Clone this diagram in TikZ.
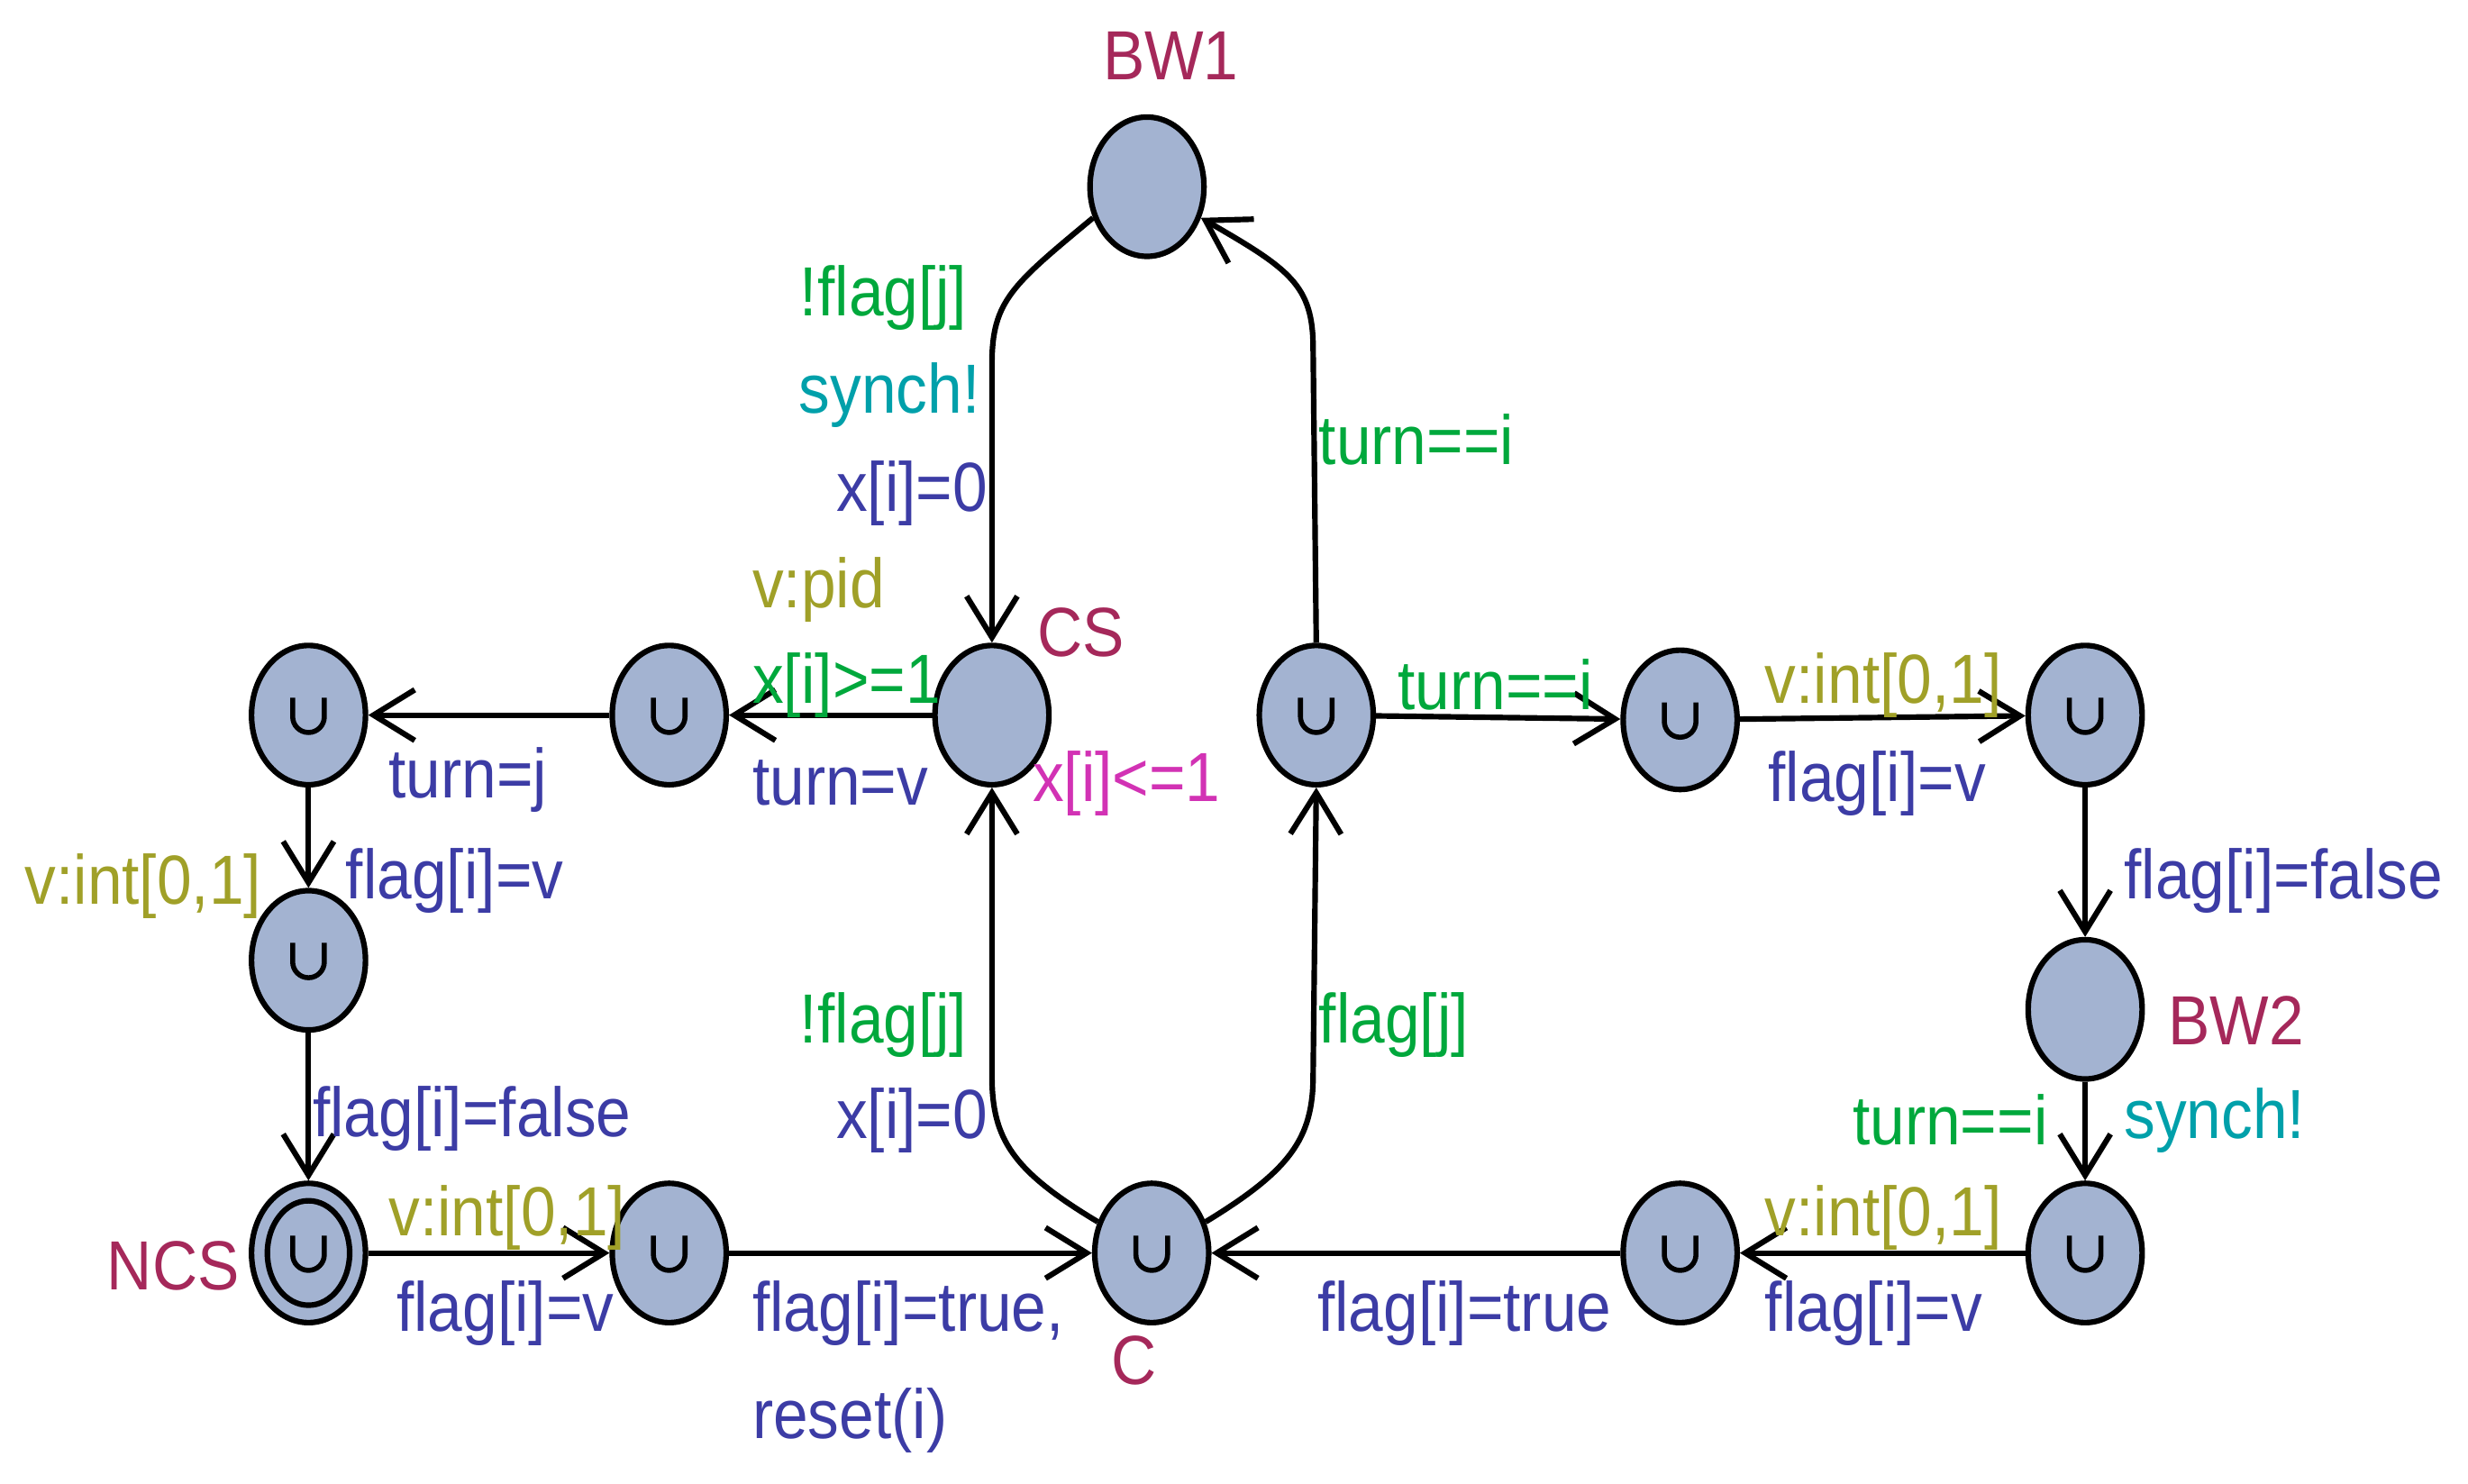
\documentclass[tikz,border=0pt]{standalone}
\usepackage{fontspec}
\setmainfont{Liberation Sans}[FakeStretch=0.9]
\usetikzlibrary{arrows.meta,shapes.geometric}
\definecolor{nodefill}{RGB}{163,179,209}
\definecolor{cgreen}{RGB}{0,168,60}
\definecolor{cteal}{RGB}{0,160,170}
\definecolor{cblue}{RGB}{60,60,165}
\definecolor{colive}{RGB}{160,160,40}
\definecolor{cname}{RGB}{165,40,90}
\definecolor{cmag}{RGB}{210,50,180}
\tikzset{
 loc/.style={ellipse,draw=black,line width=1pt,fill=nodefill,minimum width=0.72cm,minimum height=0.88cm,inner sep=0pt},
 arr/.style={line width=1pt,-{Straight Barb[length=2.6mm,width=3.2mm,line width=1pt]}},
 lab/.style={inner sep=0pt,font=\fontsize{12.5}{14}\selectfont},
 gu/.style={lab,text=cgreen}, sy/.style={lab,text=cteal}, as/.style={lab,text=cblue},
 se/.style={lab,text=colive}, nm/.style={lab,text=cname}, iv/.style={lab,text=cmag}
}
\newcommand{\cupmark}[1]{\draw[line width=0.9pt] (#1.center) ++(-0.1cm,0.11cm) -- ++(0,-0.12cm) arc(180:360:0.1cm) -- ++(0,0.12cm);}
\begin{document}
\begin{tikzpicture}[x=0.01cm,y=-0.01cm]
\useasboundingbox (0,0) rectangle (1560,938);
\node[loc] (BW1) at (725,118) {};
\node[loc] (A) at (195,452) {};
\node[loc] (B) at (423,452) {};
\node[loc] (CS) at (627,452) {};
\node[loc] (D) at (832,452) {};
\node[loc] (E) at (1062,455) {};
\node[loc] (F) at (1318,452) {};
\node[loc] (G) at (195,607) {};
\node[loc] (BW2) at (1318,638) {};
\node[loc] (NCS) at (195,792) {};
\node[loc] (H) at (423,792) {};
\node[loc] (C) at (728,792) {};
\node[loc] (I) at (1062,792) {};
\node[loc] (J) at (1318,792) {};
\draw[line width=1pt] (NCS.center) ellipse (0.26cm and 0.33cm);
\foreach \n in {A,B,D,E,F,G,NCS,H,C,I,J} {\cupmark{\n}}
% edges
\draw[arr] (BW1.210) .. controls (640,180) and (627,190) .. (627,230) -- (CS.north);
\draw[arr] (D.north) -- (830,220) .. controls (830,180) and (815,170) .. (BW1.330);
\draw[arr] (CS) -- (B);
\draw[arr] (B) -- (A);
\draw[arr] (A) -- (G);
\draw[arr] (G) -- (NCS);
\draw[arr] (NCS) -- (H);
\draw[arr] (H) -- (C);
\draw[arr] (C.150) .. controls (640,740) and (627,720) .. (627,680) -- (CS.south);
\draw[arr] (C.30) .. controls (815,740) and (830,720) .. (830,680) -- (D.south);
\draw[arr] (D) -- (E);
\draw[arr] (E) -- (F);
\draw[arr] (F) -- (BW2);
\draw[arr] (BW2) -- (J);
\draw[arr] (J) -- (I);
\draw[arr] (I) -- (C);
% labels
\node[nm] (lBW1) at (740,35) {BW1};
\node[gu,anchor=east] (l1) at (612,188) {!flag[j]};
\node[sy,anchor=east] (l2) at (620,250) {synch!};
\node[as,anchor=east] (l3) at (625,312) {x[i]=0};
\node[gu,anchor=west] (l4) at (833,278) {turn==i};
\node[se,anchor=west] (l5) at (475,373) {v:pid};
\node[gu,anchor=west] (l6) at (475,433) {x[i]>=1};
\node[as,anchor=west] (l7) at (475,495) {turn=v};
\node[nm,anchor=west] (lCS) at (655,400) {CS};
\node[iv,anchor=west] (l8) at (652,495) {x[i]<=1};
\node[gu,anchor=west] (l9) at (883,433) {turn==i};
\node[se,anchor=west] (l10) at (1115,433) {v:int[0,1]};
\node[as,anchor=west] (l11) at (1117,495) {flag[i]=v};
\node[as,anchor=west] (l12) at (245,493) {turn=j};
\node[se,anchor=west] (l13) at (15,560) {v:int[0,1]};
\node[as,anchor=west] (l14) at (218,557) {flag[i]=v};
\node[as,anchor=west] (l15) at (1342,557) {flag[i]=false};
\node[nm,anchor=west] (lBW2) at (1370,645) {BW2};
\node[gu,anchor=east] (l16) at (1295,708) {turn==i};
\node[sy,anchor=west] (l17) at (1342,708) {synch!};
\node[gu,anchor=east] (l18) at (612,648) {!flag[j]};
\node[as,anchor=east] (l19) at (625,708) {x[i]=0};
\node[gu,anchor=west] (l20) at (833,648) {flag[j]};
\node[as,anchor=west] (l21) at (197,707) {flag[i]=false};
\node[nm,anchor=east] (lNCS) at (152,800) {NCS};
\node[se,anchor=west] (l22) at (245,770) {v:int[0,1]};
\node[as,anchor=west] (l23) at (250,830) {flag[i]=v};
\node[as,anchor=west] (l24) at (475,830) {flag[i]=true,};
\node[as,anchor=west] (l25) at (475,898) {reset(i)};
\node[nm] (lC) at (717,860) {C};
\node[as,anchor=west] (l26) at (832,830) {flag[i]=true};
\node[se,anchor=west] (l27) at (1115,770) {v:int[0,1]};
\node[as,anchor=west] (l28) at (1115,830) {flag[i]=v};
\end{tikzpicture}
\end{document}
